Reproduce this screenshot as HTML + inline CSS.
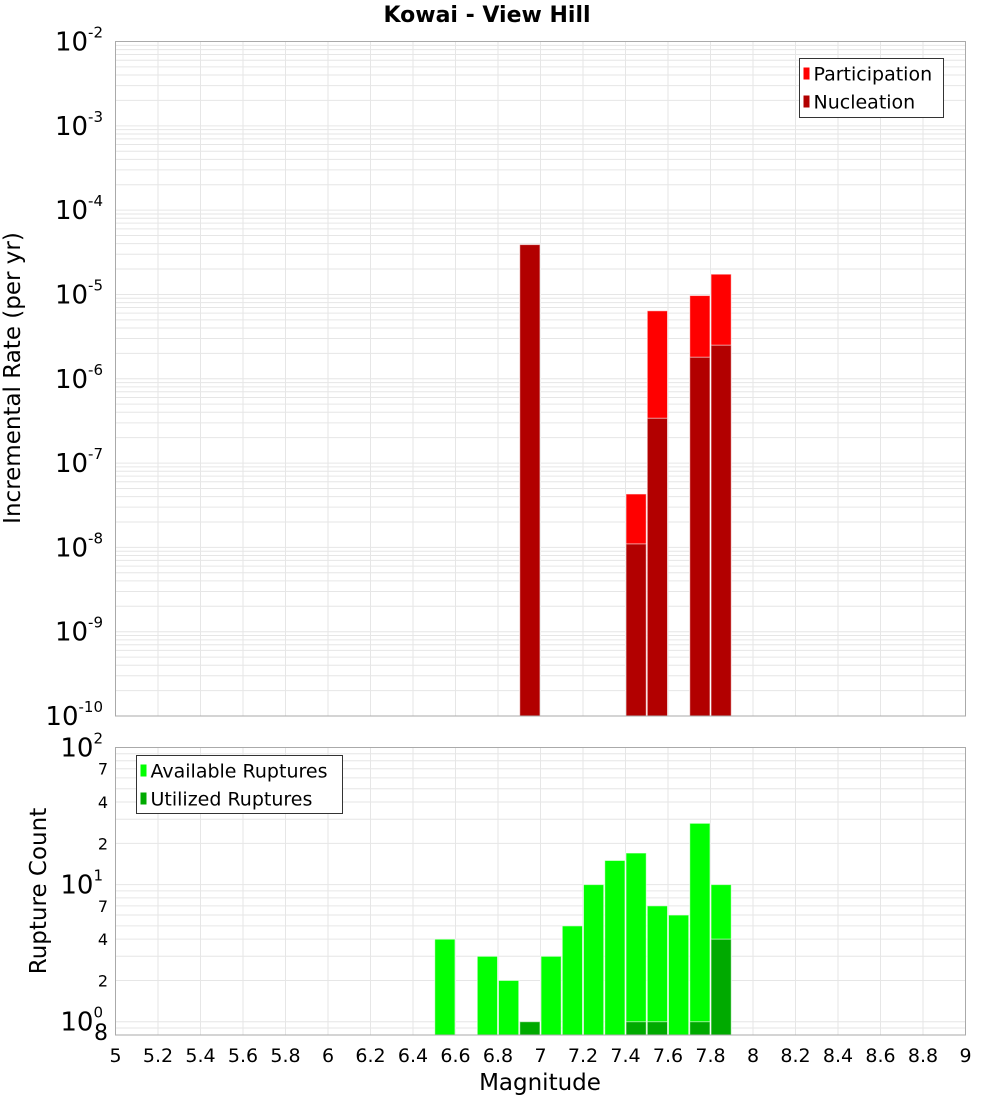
<!DOCTYPE html>
<html><head><meta charset="utf-8"><style>
body{margin:0;background:#fff;}
svg{display:block;font-family:"Liberation Sans","DejaVu Sans",sans-serif;}
</style></head><body>
<svg id="c" width="1000" height="1100">
<text x="487" y="22" text-anchor="middle" font-size="22" font-weight="bold" font-family="DejaVu Sans, sans-serif">Kowai - View Hill</text>
<g id="g1"></g><g id="g2"></g>
<text transform="translate(20,378) rotate(-90)" text-anchor="middle" font-size="23" font-family="DejaVu Sans, sans-serif">Incremental Rate (per yr)</text>
<text transform="translate(46,891) rotate(-90)" text-anchor="middle" font-size="23" font-family="DejaVu Sans, sans-serif">Rupture Count</text>
<text x="540" y="1090" text-anchor="middle" font-size="23" font-family="DejaVu Sans, sans-serif">Magnitude</text>
</svg>
<script>
const binStarts=[6.9,7.4,7.5,7.7,7.8];
const participation=[3.9e-5,4.3e-8,6.4e-6,9.7e-6,1.74e-5];
const nucleation=[3.9e-5,1.1e-8,3.4e-7,1.8e-6,2.5e-6];
const countBins=[6.5,6.7,6.8,6.9,7.0,7.1,7.2,7.3,7.4,7.5,7.6,7.7,7.8];
const available=[4,3,2,1,3,5,10,15,17,7,6,28,10];
const utilBins=[6.9,7.4,7.5,7.7,7.8];
const utilized=[1,1,1,1,4];
const xTicks=[5,5.2,5.4,5.6,5.8,6,6.2,6.4,6.6,6.8,7,7.2,7.4,7.6,7.8,8,8.2,8.4,8.6,8.8,9];
const topExps=[-10,-9,-8,-7,-6,-5,-4,-3,-2];
const botExps=[0,1,2];

const NS="http://www.w3.org/2000/svg";
const L=115.5,R=965.5,T1=41.5,B1=716,T2=747.5,B2=1035;
const x=m=>L+(m-5)/4*(R-L);
const y1=v=>B1-(Math.log10(v)+10)/8*(B1-T1);
const y2=v=>B2-(Math.log10(v)-Math.log10(0.8))/(2-Math.log10(0.8))*(B2-T2);
function mk(p,tag,a,txt){const e=document.createElementNS(NS,tag);for(const k in a)e.setAttribute(k,a[k]);if(txt!==undefined)e.textContent=txt;p.appendChild(e);return e;}
const g1=document.getElementById('g1'),g2=document.getElementById('g2');

function grid(g,T,B,yf,lo,hi){
  for(const t of xTicks){const l=mk(g,'line',{x1:x(t),x2:x(t),y1:T,y2:B,stroke:'#e6e6e6'});
  
  }
  for(let e=lo;e<hi;e++)for(let k=1;k<10;k++){const v=k*Math.pow(10,e);const yy=yf(v);if(yy<T-0.5||yy>B+0.5)continue;
  const l=mk(g,'line',{x1:L,x2:R,y1:yy,y2:yy,stroke:'#e6e6e6'});
  
  }
}
grid(g1,T1,B1,y1,-10,-2);
grid(g2,T2,B2,y2,-1,2);

function bar(g,m,v,yf,B,col,name){const x0=x(m),x1=x(m+0.1);const yy=yf(v);
  const r=mk(g,'rect',{x:x0+0.5,y:yy,width:x1-x0-1,height:B-yy,fill:col,stroke:'#fff','stroke-opacity':0.6,'stroke-width':1});
  
  }
binStarts.forEach((m,i)=>bar(g1,m,participation[i],y1,B1,'#ff0000','participation-bar'));
binStarts.forEach((m,i)=>bar(g1,m,nucleation[i],y1,B1,'#b20000','nucleation-bar'));
countBins.forEach((m,i)=>bar(g2,m,available[i],y2,B2,'#00ff00','available-bar'));
utilBins.forEach((m,i)=>bar(g2,m,utilized[i],y2,B2,'#00aa00','utilized-bar'));

mk(g1,'rect',{x:L,y:T1,width:R-L,height:B1-T1,fill:'none',stroke:'#aaa'});
mk(g2,'rect',{x:L,y:T2,width:R-L,height:B2-T2,fill:'none',stroke:'#aaa'});

for(const e of topExps){const yy=y1(Math.pow(10,e));
  const t=mk(g1,'text',{x:103,y:yy+9,'text-anchor':'end','font-size':26,'font-family':'DejaVu Sans, sans-serif'});
  
  
  mk(t,'tspan',{},'10');mk(t,'tspan',{dy:-13,'font-size':15},String(e));}
for(const e of botExps){const yy=y2(Math.pow(10,e));
  const t=mk(g2,'text',{x:103,y:yy+9,'text-anchor':'end','font-size':26,'font-family':'DejaVu Sans, sans-serif'});
  
  
  mk(t,'tspan',{},'10');mk(t,'tspan',{dy:-13,'font-size':15},String(e));}
for(const e of [-1,0,1])for(const k of [2,4,7,8]){const v=k*Math.pow(10,e);const yy=y2(v);if(yy<T2||yy>B2+1)continue;
  if(e===-1&&k!==8)continue; if(e>=0&&k===8)continue;
  const t=mk(g2,'text',{x:108,y:yy+(e===-1?5:6),'text-anchor':'end','font-size':e===-1?22:16,'font-family':'DejaVu Sans, sans-serif'},String(k));
  
  }
for(const t of xTicks){const s=mk(g2,'text',{x:x(t),y:1062,'text-anchor':'middle','font-size':19,'font-family':'DejaVu Sans, sans-serif'},String(t));
  
  }

function legend(g,x0,y0,w,h,items,name){const gg=mk(g,'g',{});
  
  
  mk(gg,'rect',{x:x0,y:y0,width:w,height:h,fill:'#fff',stroke:'#333'});
  items.forEach((it,i)=>{const cy=y0+15+i*28;mk(gg,'rect',{x:x0+4,y:cy-6,width:6,height:12,fill:it[1]});
  mk(gg,'text',{x:x0+14,y:cy+7,'font-size':19,'font-family':'DejaVu Sans, sans-serif'},it[0]);});}
legend(g1,799.5,58.5,144,59,[['Participation','#ff0000'],['Nucleation','#b20000']],'top-legend');
legend(g2,136.5,755.5,206,58,[['Available Ruptures','#00ff00'],['Utilized Ruptures','#00aa00']],'bottom-legend');
</script>
</body></html>
